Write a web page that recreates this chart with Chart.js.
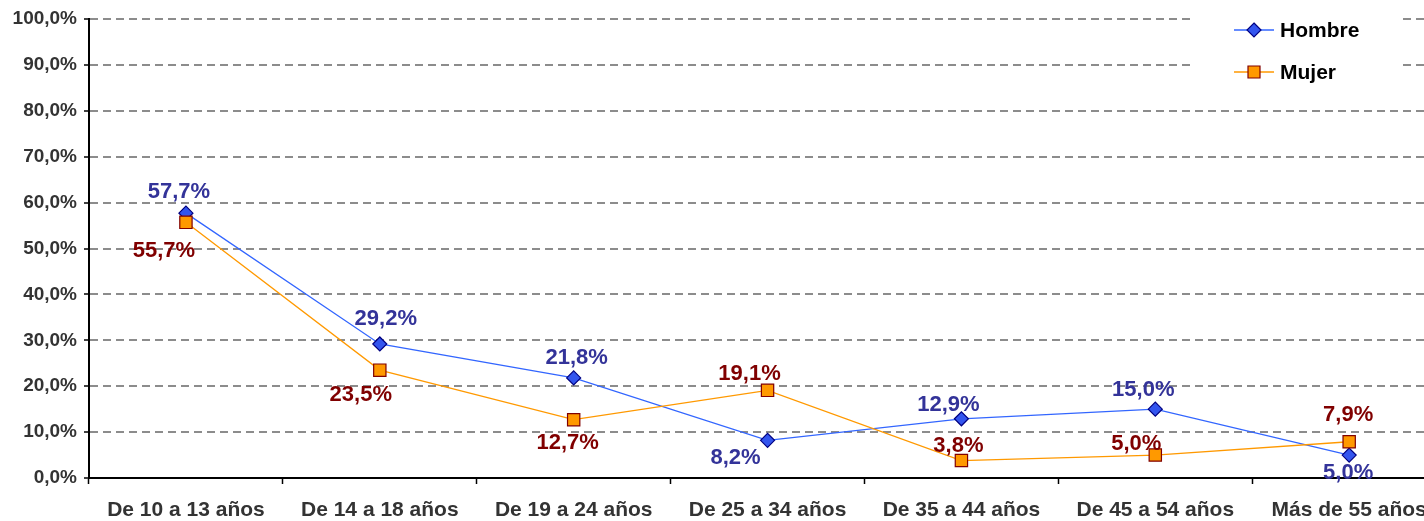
<!DOCTYPE html>
<html>
<head>
<meta charset="utf-8">
<script src="https://cdn.jsdelivr.net/npm/chart.js@4"></script>
<style>
html,body{margin:0;padding:0;background:#fff;overflow:hidden;}
#wrap{position:relative;width:1456px;height:521px;}
canvas{display:block;}
</style>
</head>
<body>
<div id="wrap"><canvas id="c" width="1456" height="521"></canvas></div>
<script>
const categories = ["De 10 a 13 años","De 14 a 18 años","De 19 a 24 años","De 25 a 34 años","De 35 a 44 años","De 45 a 54 años","Más de 55 años"];
const hombre = [57.7, 29.2, 21.8, 8.2, 12.9, 15.0, 5.0];
const mujer = [55.7, 23.5, 12.7, 19.1, 3.8, 5.0, 7.9];
const yTicks = [0,10,20,30,40,50,60,70,80,90,100];
// label offsets (style): [dx, dy] from point
const hombreLabelOffsets = [[-7,-21],[6,-25],[3,-20],[-32,18],[-13,-14],[-12,-19],[-1,18]];
const mujerLabelOffsets = [[-22,29],[-19,25],[-6,23],[-18,-16],[-3,-15],[-19,-11],[-1,-27]];

const fmt = v => v.toFixed(1).replace('.', ',') + '%';

const labelPlugin = {
  id: 'vlabels',
  afterDatasetsDraw(chart) {
    const ctx = chart.ctx;
    ctx.save();
    ctx.font = 'bold 22px "Liberation Sans", Arial, sans-serif';
    ctx.textAlign = 'center';
    ctx.textBaseline = 'middle';
    chart.data.datasets.forEach((ds, i) => {
      const meta = chart.getDatasetMeta(i);
      meta.data.forEach((pt, j) => {
        const off = ds.labelOffsets[j];
        ctx.fillStyle = ds.labelColor;
        ctx.fillText(fmt(ds.data[j]), pt.x + off[0], pt.y + off[1]);
      });
    });
    ctx.restore();
  }
};

const legendPlugin = {
  id: 'customLegend',
  afterDraw(chart) {
    const ctx = chart.ctx;
    ctx.save();
    ctx.fillStyle = '#fff';
    ctx.fillRect(1190, 8, 213, 92);
    const items = [
      {y: 30, text: 'Hombre', line: '#3366FF', fill: '#3355EE', border: '#000080', shape: 'diamond'},
      {y: 72, text: 'Mujer', line: '#FF9900', fill: '#FF9900', border: '#800000', shape: 'square'}
    ];
    items.forEach(it => {
      ctx.strokeStyle = it.line; ctx.lineWidth = 1.3;
      ctx.beginPath(); ctx.moveTo(1234, it.y); ctx.lineTo(1274, it.y); ctx.stroke();
      ctx.fillStyle = it.fill; ctx.strokeStyle = it.border; ctx.lineWidth = 1.2;
      ctx.beginPath();
      if (it.shape === 'diamond') {
        ctx.moveTo(1254, it.y - 7); ctx.lineTo(1261, it.y); ctx.lineTo(1254, it.y + 7); ctx.lineTo(1247, it.y); ctx.closePath();
      } else {
        ctx.rect(1248, it.y - 6, 12, 12);
      }
      ctx.fill(); ctx.stroke();
      ctx.fillStyle = '#000';
      ctx.font = 'bold 21px "Liberation Sans", Arial, sans-serif';
      ctx.textAlign = 'left'; ctx.textBaseline = 'middle';
      ctx.fillText(it.text, 1280, it.y + 1);
    });
    ctx.restore();
  }
};

new Chart(document.getElementById('c'), {
  type: 'line',
  data: {
    labels: categories,
    datasets: [
      {
        label: 'Hombre', data: hombre, order: 1,
        borderColor: '#3366FF', borderWidth: 1.3,
        pointStyle: 'rectRot', pointRadius: 7, pointHoverRadius: 7,
        pointBackgroundColor: '#3355EE', pointBorderColor: '#000080', pointBorderWidth: 1.2,
        tension: 0, fill: false,
        labelColor: '#333399', labelOffsets: hombreLabelOffsets
      },
      {
        label: 'Mujer', data: mujer, order: 0,
        borderColor: '#FF9900', borderWidth: 1.3,
        pointStyle: 'rect', pointRadius: 8.7, pointHoverRadius: 8.7,
        pointBackgroundColor: '#FF9900', pointBorderColor: '#800000', pointBorderWidth: 1.2,
        tension: 0, fill: false,
        labelColor: '#800000', labelOffsets: mujerLabelOffsets
      }
    ]
  },
  options: {
    responsive: false,
    animation: false,
    devicePixelRatio: 1,
    layout: { padding: { top: 19, right: 2, left: 0, bottom: 0 } },
    plugins: { legend: { display: false }, tooltip: { enabled: false } },
    scales: {
      x: {
        type: 'category',
        offset: true,
        grid: { offset: true, drawOnChartArea: false, drawTicks: true, tickLength: 6, tickColor: '#000', tickWidth: 1.5 },
        border: { display: true, color: '#000', width: 2 },
        ticks: { color: '#333', font: { family: '"Liberation Sans", Arial, sans-serif', size: 21, weight: 'bold' }, padding: 14, maxRotation: 0, autoSkip: false },
        afterFit(s) { s.height = 43; }
      },
      y: {
        min: 0, max: 100,
        afterBuildTicks(s) { s.ticks = yTicks.map(v => ({ value: v })); },
        grid: { color: '#8c8c8c', lineWidth: 2, drawTicks: true, tickLength: 5, tickColor: '#000', tickWidth: 1.5, tickBorderDash: [] },
        border: { display: true, color: '#000', width: 2, dash: [8, 5] },
        ticks: { autoSkip: false, color: '#333', font: { family: '"Liberation Sans", Arial, sans-serif', size: 19, weight: 'bold' }, padding: 7, callback: v => v.toFixed(1).replace('.', ',') + '%' },
        afterFit(s) { s.width = 89; }
      }
    }
  },
  plugins: [labelPlugin, legendPlugin]
});
</script>
</body>
</html>
